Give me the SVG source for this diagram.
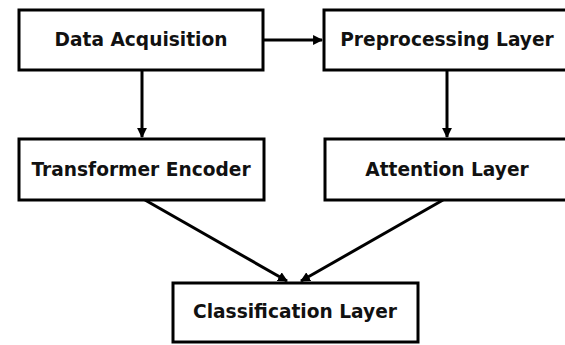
<svg xmlns="http://www.w3.org/2000/svg" width="565" height="345" viewBox="0 0 565 345">
<defs>
<style>
.box{fill:#fff;stroke:#000;stroke-width:3}
.lbl{font-family:"DejaVu Sans",sans-serif;font-weight:bold;font-size:18.6px;fill:#111;text-anchor:middle}
.edge{stroke:#000;stroke-width:3;fill:none;marker-end:url(#ah)}
</style>
<marker id="ah" viewBox="0 0 10 10" refX="9" refY="5" markerWidth="3.3" markerHeight="3.3" orient="auto" markerUnits="strokeWidth">
<path d="M0,0 L10,5 L0,10 z" fill="#000"/>
</marker>
</defs>
<rect width="565" height="345" fill="#fff"/>
<g id="connectors">
<line class="edge" x1="263" y1="40" x2="322" y2="40"/>
<line class="edge" x1="142" y1="70" x2="142" y2="137"/>
<line class="edge" x1="447" y1="70" x2="447" y2="137"/>
<line class="edge" x1="145" y1="200" x2="287" y2="281"/>
<line class="edge" x1="443" y1="200" x2="301" y2="281"/>
</g>
<g id="data-acquisition">
<rect class="box" x="19" y="10" width="244" height="60"/>
<text class="lbl" x="141" y="46">Data Acquisition</text>
</g>
<g id="preprocessing-layer">
<rect class="box" x="324" y="10" width="246" height="60"/>
<text class="lbl" x="447" y="46">Preprocessing Layer</text>
</g>
<g id="transformer-encoder">
<rect class="box" x="19" y="139" width="245" height="61"/>
<text class="lbl" x="141" y="176">Transformer Encoder</text>
</g>
<g id="attention-layer">
<rect class="box" x="325" y="139" width="245" height="61"/>
<text class="lbl" x="447" y="176">Attention Layer</text>
</g>
<g id="classification-layer">
<rect class="box" x="173" y="283" width="245" height="59"/>
<text class="lbl" x="295" y="318">Classification Layer</text>
</g>
</svg>
